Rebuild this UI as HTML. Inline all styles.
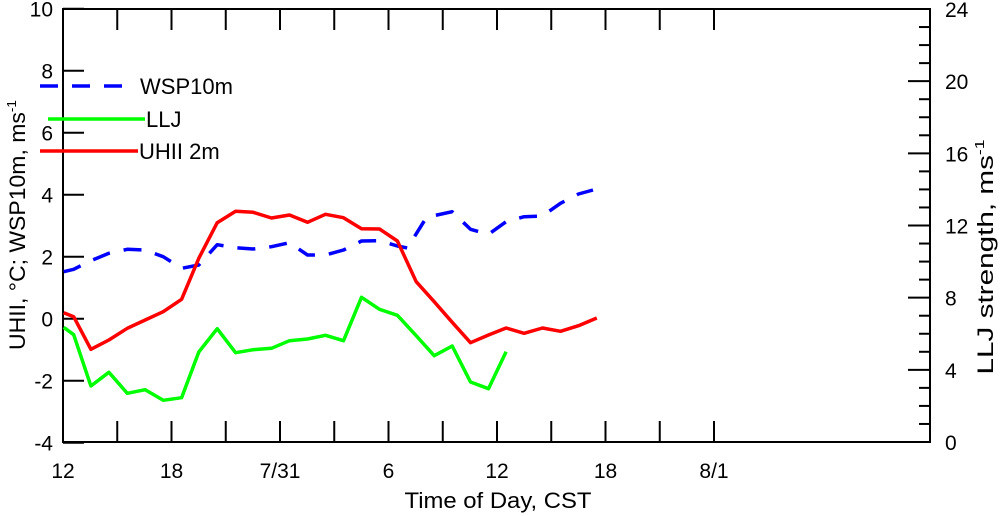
<!DOCTYPE html><html><head><style>body{margin:0;background:#fff}svg{display:block;font-family:"Liberation Sans",sans-serif}</style></head><body>
<svg id="s" width="1000" height="516" xmlns="http://www.w3.org/2000/svg">
<rect width="1000" height="516" fill="#fff"/>
<g id="ax" stroke="#000" stroke-width="2" fill="none"></g>
<g id="ser" fill="none" stroke-width="3.5" stroke-linejoin="round"></g>
<g font-size="22" fill="#000">
<text x="498" y="508" text-anchor="middle" textLength="187" lengthAdjust="spacingAndGlyphs">Time of Day, CST</text>
<text transform="translate(25,225) rotate(-90)" text-anchor="middle" textLength="250" lengthAdjust="spacingAndGlyphs">UHII, °C; WSP10m, ms<tspan font-size="13" dy="-9">-1</tspan></text>
<text transform="translate(993,257) rotate(-90)" text-anchor="middle" textLength="235" lengthAdjust="spacingAndGlyphs">LLJ strength, ms<tspan font-size="13" dy="-9">-1</tspan></text>
<text x="140" y="94">WSP10m</text>
<text x="146" y="127">LLJ</text>
<text x="139" y="159">UHII 2m</text>
</g>
<g id="lab" font-size="21" fill="#000"></g>
<line x1="40" y1="86" x2="123" y2="86" stroke="#0000ff" stroke-width="3.5" stroke-dasharray="18,14"/>
<line x1="48" y1="119" x2="145" y2="119" stroke="#00ff00" stroke-width="3.5"/>
<line x1="40" y1="151" x2="138" y2="151" stroke="#ff0000" stroke-width="3.5"/>
</svg>
<script>
var NS="http://www.w3.org/2000/svg";
function el(p,t,a,txt){var e=document.createElementNS(NS,t);for(var k in a)e.setAttribute(k,a[k]);if(txt!=null)e.textContent=txt;p.appendChild(e);return e;}
var ax=document.getElementById('ax'),lab=document.getElementById('lab'),ser=document.getElementById('ser');
var L=63,R=930,T=9,B=442;
el(ax,'rect',{x:L,y:T,width:R-L,height:B-T});
function yl(v){return 318.7-31*v;}
for(var v=-4;v<=10;v+=2){var y=yl(v);el(ax,'line',{x1:L,y1:y,x2:L+21,y2:y});el(lab,'text',{x:53,y:y+8,'text-anchor':'end'},String(v));}
for(var i=0;i<=24;i++){var y=B-i*(B-T)/24;var len=(i%4==0)?22:11;el(ax,'line',{x1:R,y1:y,x2:R-len,y2:y});if(i%4==0)el(lab,'text',{x:945,y:y+8},String(i));}
var sp=54.25;
for(var i=1;i<=12;i++){var x=L+i*sp;el(ax,'line',{x1:x,y1:B,x2:x,y2:B-21});el(ax,'line',{x1:x,y1:T,x2:x,y2:T+21});}
var xl=[["12",0],["18",2],["7/31",4],["6",6],["12",8],["18",10],["8/1",12]];
xl.forEach(function(a){el(lab,'text',{x:L+a[1]*sp,y:478,'text-anchor':'middle'},a[0]);});
function pts(a){return a.map(function(p){return (40+p[0]/2.613).toFixed(1)+","+(170+p[1]/3).toFixed(1);}).join(" ");}
var red=[[62,428],[88,440],[133,538],[180,510],[228,475],[275,450],[322,425],[370,388],[415,265],[463,158],[511,124],[557,127],[605,144],[652,135],[699,157],[746,133],[793,143],[840,176],[887,177],[934,213],[983,335],[1030,395],[1077,457],[1125,518],[1172,495],[1218,474],[1265,490],[1313,474],[1360,484],[1407,467],[1455,444]];
var green=[[62,472],[88,494],[133,648],[180,607],[228,670],[275,659],[322,691],[370,683],[415,546],[463,476],[511,548],[557,539],[605,535],[652,512],[699,507],[746,496],[793,512],[840,382],[887,418],[934,436],[983,497],[1030,557],[1077,528],[1125,636],[1172,656],[1218,545]];
var blue=[[62,305],[88,298],[133,272],[180,250],[228,238],[275,240],[322,260],[370,295],[415,285],[463,224],[511,233],[557,237],[605,230],[652,218],[699,255],[746,255],[793,240],[840,213],[887,212],[934,228],[960,234],[1010,142],[1077,125],[1125,178],[1172,193],[1218,155],[1265,140],[1313,138],[1360,100],[1407,72],[1445,60]];
el(ser,'polyline',{points:pts(blue),stroke:'#0000ff','stroke-dasharray':'18,14'});
el(ser,'polyline',{points:pts(green),stroke:'#00ff00'});
el(ser,'polyline',{points:pts(red),stroke:'#ff0000'});
</script>
</body></html>
